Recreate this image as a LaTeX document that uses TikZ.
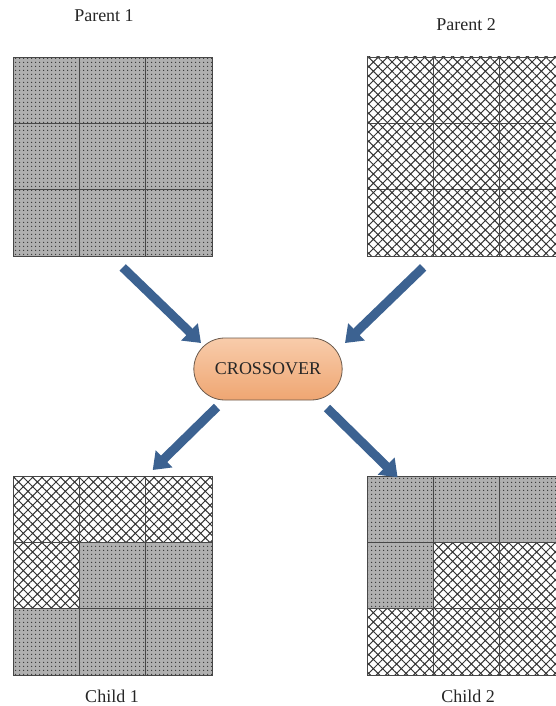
\documentclass[tikz,border=0pt]{standalone}
\usepackage{fontspec}
\setmainfont{Liberation Serif}
\usetikzlibrary{arrows.meta,patterns.meta,shapes.misc}

\definecolor{arrowblue}{HTML}{3C6291}
\definecolor{xotop}{HTML}{F8CCAB}
\definecolor{xobot}{HTML}{EFA672}
\definecolor{xoline}{HTML}{6B5A4C}

\tikzset{
  dotcell/.style={preaction={fill=gray!62}, pattern={Dots[distance=4pt, radius=0.8pt]}, pattern color=black!80},
  crosscell/.style={pattern={Hatch[distance=6.6pt, angle=45, line width=1pt]}, pattern color=black!80},
  gridline/.style={draw=black!72, line width=1.2pt},
  bigarrow/.style={draw=arrowblue, line width=9pt, -{Triangle[length=16pt, width=23pt]}},
  lbl/.style={font=\fontsize{18}{20}\selectfont, text=black!85},
}

% 3x3 board: name, top left x, top left y, nine cell styles (row by row)
\newcommand{\board}[4]{%
  \foreach \s [count=\i from 0] in {#4} {
    \pgfmathtruncatemacro\col{mod(\i,3)}
    \pgfmathtruncatemacro\row{div(\i,3)}
    \path[\s] ({#2+\col*66.4},{#3+\row*66.4}) rectangle +(66.4,66.4);
  }
  \foreach \k in {1,2} {
    \draw[gridline] ({#2+\k*66.4},#3) -- +(0,199.2);
    \draw[gridline] (#2,{#3+\k*66.4}) -- +(199.2,0);
  }
  \node[gridline, minimum size=199.2pt, inner sep=0pt, anchor=north west] (#1) at (#2,#3) {};
}

\begin{document}
\begin{tikzpicture}[x=1pt, y=-1pt]
\clip (0,0) rectangle (556,706);

% parents
\board{p1}{13}{57}{dotcell,dotcell,dotcell,dotcell,dotcell,dotcell,dotcell,dotcell,dotcell}
\board{p2}{367}{57}{crosscell,crosscell,crosscell,crosscell,crosscell,crosscell,crosscell,crosscell,crosscell}

% children
\board{c1}{13}{476}{crosscell,crosscell,crosscell,crosscell,dotcell,dotcell,dotcell,dotcell,dotcell}
\board{c2}{367}{476}{dotcell,dotcell,dotcell,dotcell,crosscell,crosscell,crosscell,crosscell,crosscell}

\node[lbl] (t1) at (104,16) {Parent 1};
\node[lbl] (t2) at (466,25) {Parent 2};
\node[lbl] (t3) at (112,696) {Child 1};
\node[lbl] (t4) at (468,696) {Child 2};

% operator
\node[rounded rectangle, draw=xoline, line width=0.8pt, top color=xotop, bottom color=xobot,
      minimum width=155pt, minimum height=62pt, lbl] (xo) at (268,369) {CROSSOVER};

\coordinate (a1s) at ([shift={(9.5,10)}]p1.south);
\coordinate (a1e) at ([shift={(-67,-26)}]xo.center);
\coordinate (a2s) at ([shift={(-44,10)}]p2.south);
\coordinate (a2e) at ([shift={(77,-26)}]xo.center);
\coordinate (a3s) at ([shift={(-51,38)}]xo.center);
\coordinate (a3e) at ([shift={(39.5,-6)}]c1.north);
\coordinate (a4s) at ([shift={(59,39)}]xo.center);
\coordinate (a4e) at ([shift={(-69.6,1.3)}]c2.north);

\draw[bigarrow] (a1s) -- (a1e);
\draw[bigarrow] (a2s) -- (a2e);
\draw[bigarrow] (a3s) -- (a3e);
\draw[bigarrow] (a4s) -- (a4e);
\end{tikzpicture}
\end{document}
